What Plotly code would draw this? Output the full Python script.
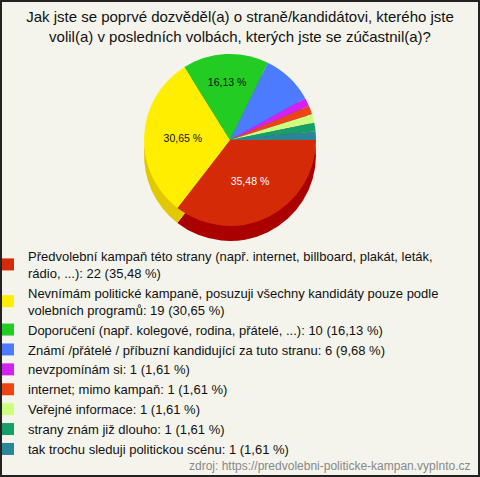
import plotly.graph_objects as go

# Datos del gráfico
categorias = [
    "Předvolební kampaň této strany (např. internet, billboard, plakát, leták,<br>rádio, ...)",
    "Nevnímám politické kampaně, posuzuji všechny kandidáty pouze podle<br>volebních programů",
    "Doporučení (např. kolegové, rodina, přátelé, ...)",
    "Známí /přátelé / příbuzní kandidující za tuto stranu",
    "nevzpomínám si",
    "internet; mimo kampaň",
    "Veřejné informace",
    "strany znám již dlouho",
    "tak trochu sleduji politickou scénu",
]
valores = [22, 19, 10, 6, 1, 1, 1, 1, 1]
colores = ["#d42a08", "#ffee00", "#22cc22", "#4d7bff", "#d322ee",
           "#ee4411", "#ccff80", "#14a068", "#2a8596"]
colores_lado = ["#aa0000", "#e2c800", "#18a018", "#3355cc", "#a010c0",
                "#c03000", "#a8d060", "#0c7a4e", "#1d6470"]

FONT = "Liberation Sans, Arial, sans-serif"
total = sum(valores)


def fmt_pct(v):
    return f"{v / total * 100:.2f} %".replace(".", ",")


etiquetas = [f"{c}: {v} ({fmt_pct(v)})" for c, v in zip(categorias, valores)]
textos = [fmt_pct(v) if v / total > 0.12 else "" for v in valores]
colores_texto = ["#ffffff", "#111111", "#111111"] + ["#111111"] * 6

W, H = 480, 477
cx, cy, d = 230, 140, 172
depth = 15
dom_x = [(cx - d / 2) / W, (cx + d / 2) / W]
dom_y = [1 - (cy + d / 2) / H, 1 - (cy - d / 2) / H]

fig = go.Figure()

# "lado" del pastel (efecto 3D), desplazado hacia abajo
fig.add_trace(go.Pie(
    labels=[e + " " for e in etiquetas],
    values=valores,
    sort=False,
    direction="clockwise",
    rotation=90,
    marker=dict(colors=colores_lado, line=dict(width=0)),
    textinfo="none",
    hoverinfo="skip",
    showlegend=False,
    domain=dict(x=dom_x, y=[dom_y[0] - depth / H, dom_y[1] - depth / H]),
))

fig.add_trace(go.Pie(
    labels=etiquetas,
    values=valores,
    sort=False,
    direction="clockwise",
    rotation=90,
    marker=dict(colors=colores, line=dict(width=0)),
    text=textos,
    textinfo="text",
    textposition="inside",
    insidetextorientation="horizontal",
    insidetextfont=dict(family=FONT, size=10.5, color=colores_texto),
    hovertemplate="%{label}<extra></extra>",
    domain=dict(x=dom_x, y=dom_y),
))

fig.update_layout(
    width=W,
    height=H,
    margin=dict(l=0, r=0, t=0, b=0, autoexpand=False),
    paper_bgcolor="#f4f4ec",
    plot_bgcolor="#f4f4ec",
    font=dict(family=FONT, size=12, color="#111111"),
    title=dict(
        text="Jak jste se poprvé dozvěděl(a) o straně/kandidátovi, kterého jste<br>"
             "volil(a) v posledních volbách, kterých jste se zúčastnil(a)?",
        x=0.5, xanchor="center", y=1 - 22 / H, yanchor="top",
        font=dict(family=FONT, size=15, color="#111111"),
    ),
    legend=dict(
        x=-12 / W, xanchor="left",
        y=1 - 241 / H, yanchor="top",
        bgcolor="rgba(0,0,0,0)",
        font=dict(family=FONT, size=13, color="#111111"),
        traceorder="normal",
    ),
    annotations=[dict(
        text="zdroj: https://predvolebni-politicke-kampan.vyplnto.cz",
        xref="paper", yref="paper", x=1 - 8 / W, y=2 / H,
        xanchor="right", yanchor="bottom", showarrow=False,
        font=dict(family=FONT, size=12, color="#888888"),
    )],
    shapes=[dict(
        type="rect", xref="paper", yref="paper",
        x0=1 / W, x1=1 - 1 / W, y0=1 / H, y1=1 - 1 / H,
        line=dict(color="#222222", width=2), layer="above",
    )],
)

fig.write_html("out.html", config={"displayModeBar": False},
               post_script="document.body.style.margin='0';")
